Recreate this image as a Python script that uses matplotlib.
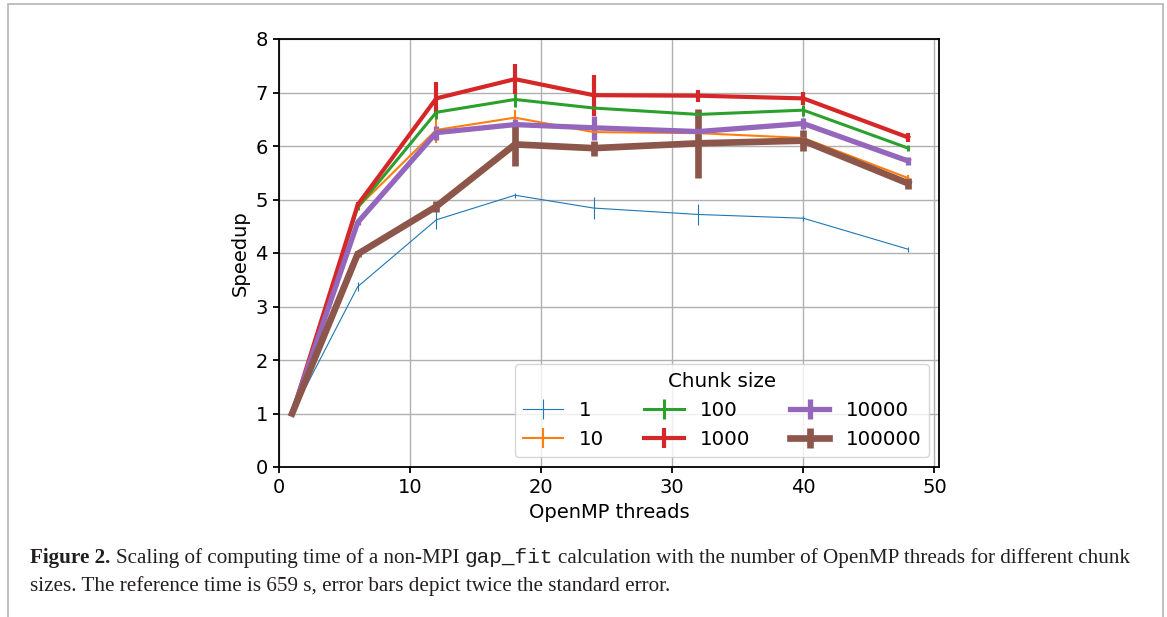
import matplotlib
matplotlib.use('Agg')
import matplotlib.pyplot as plt
from matplotlib.patches import Rectangle

# ---- data ----
threads = [1, 6, 12, 18, 24, 32, 40, 48]
chunk_labels = ['1', '10', '100', '1000', '10000', '100000']

speedup_1 = [1, 3.37, 4.62, 5.08, 4.84, 4.72, 4.65, 4.07]
speedup_10 = [1, 4.85, 6.30, 6.53, 6.26, 6.24, 6.15, 5.40]
speedup_100 = [1, 4.85, 6.63, 6.87, 6.71, 6.59, 6.67, 5.96]
speedup_1000 = [1, 4.90, 6.89, 7.25, 6.95, 6.94, 6.89, 6.16]
speedup_10000 = [1, 4.57, 6.25, 6.40, 6.34, 6.27, 6.42, 5.72]
speedup_100000 = [1, 3.98, 4.87, 6.03, 5.96, 6.05, 6.10, 5.30]

err_1 = [0, 0.08, 0.17, 0.05, 0.20, 0.20, 0.05, 0.05]
err_10 = [0, 0.05, 0.25, 0.15, 0.10, 0.10, 0.05, 0.06]
err_100 = [0, 0.05, 0.12, 0.14, 0.10, 0.08, 0.10, 0.05]
err_1000 = [0, 0.05, 0.30, 0.28, 0.38, 0.11, 0.12, 0.09]
err_10000 = [0, 0.05, 0.13, 0.10, 0.23, 0.05, 0.11, 0.08]
err_100000 = [0, 0.05, 0.10, 0.40, 0.14, 0.65, 0.19, 0.11]

series = [speedup_1, speedup_10, speedup_100, speedup_1000, speedup_10000, speedup_100000]
errors = [err_1, err_10, err_100, err_1000, err_10000, err_100000]
linewidths = [0.8, 1.5, 2.2, 3.0, 3.8, 4.8]
colors = ['#1f77b4', '#ff7f0e', '#2ca02c', '#d62728', '#9467bd', '#8c564b']

W, H, DPI = 1167, 617, 100
plt.rcParams['font.family'] = ['DejaVu Sans']
fig = plt.figure(figsize=(W / DPI, H / DPI), dpi=DPI)
ax = fig.add_axes([279 / W, 1 - 467 / H, (939 - 279) / W, (467 - 39) / H])

for y, e, lab, lw, c in zip(series, errors, chunk_labels, linewidths, colors):
    ax.errorbar(threads, y, yerr=e, label=lab, lw=lw, elinewidth=lw, color=c, capsize=0)

ax.set_xlim(0, 50.35)
ax.set_ylim(0, 8)
ax.set_xticks([0, 10, 20, 30, 40, 50])
ax.set_yticks(range(0, 9))
ax.grid(True, color='#b0b0b0', lw=1.0)
ax.set_axisbelow(True)
for s in ax.spines.values():
    s.set_linewidth(1.3)
ax.tick_params(labelsize=14, width=1.3, length=4.5)
ax.set_xlabel('OpenMP threads', fontsize=14)
ax.set_ylabel('Speedup', fontsize=14)
ax.legend(title='Chunk size', ncol=3, loc='lower right', fontsize=14.3, title_fontsize=14.3)

# page frame
fig.patches.append(Rectangle((8 / W, -0.05), (1163 - 8) / W, 1.05 - 4 / H,
                             transform=fig.transFigure, fill=False,
                             edgecolor='#b5b5b5', lw=1.2, clip_on=False))

# ---- caption ----
serif = 'Liberation Serif'
mono = 'Liberation Mono'
line1 = [('Figure 2.', dict(family=serif, weight='bold')),
         ('Scaling of computing time of a non-MPI', dict(family=serif)),
         ('gap_fit', dict(family=mono)),
         ('calculation with the number of OpenMP threads for different chunk', dict(family=serif))]
line2 = [('sizes. The reference time is 659 s, error bars depict twice the standard error.', dict(family=serif))]

fig.canvas.draw()
r = fig.canvas.get_renderer()


def width_of(txt, size, kw):
    t = fig.text(0, 0, txt, fontsize=size, **kw)
    w = t.get_window_extent(r).width
    t.remove()
    return w


def space_w(size, kw):
    return width_of('a a', size, kw) - width_of('aa', size, kw)


def line_width(pieces, size):
    total = 0
    for i, (txt, kw) in enumerate(pieces):
        total += width_of(txt, size, kw)
        if i < len(pieces) - 1:
            total += space_w(size, dict(family=serif))
    return total


base = 10
target = 1135 - 30
size = base * target / line_width(line1, base)


def put(pieces, x0, ybase, size):
    x = x0
    for i, (txt, kw) in enumerate(pieces):
        t = fig.text(x / W, 1 - ybase / H, txt, fontsize=size, va='baseline', color='#231f20', **kw)
        x += t.get_window_extent(r).width + space_w(size, dict(family=serif))


put(line1, 30, 563, size)
put(line2, 30, 591, size)

fig.savefig('out.png', dpi=DPI)
